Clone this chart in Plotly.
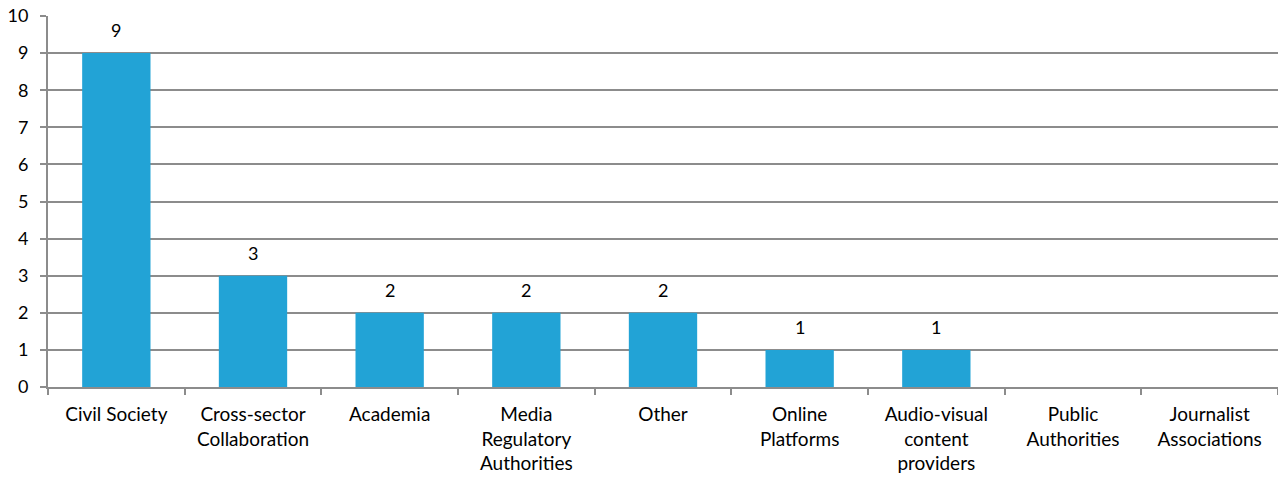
import plotly.graph_objects as go

categories = ["Civil Society", "Cross-sector<br>Collaboration", "Academia",
              "Media<br>Regulatory<br>Authorities", "Other", "Online<br>Platforms",
              "Audio-visual<br>content<br>providers", "Public<br>Authorities",
              "Journalist<br>Associations"]
values = [9, 3, 2, 2, 2, 1, 1, 0, 0]
y_ticks = list(range(0, 11))

FONT = "Lato, Open Sans, sans-serif"
GRID = "#8c8c8c"

fig = go.Figure(go.Bar(
    x=categories, y=values, marker=dict(color="#22a3d6", line=dict(width=0)),
    hoverinfo="skip",
))

for c, v in zip(categories, values):
    if v > 0:
        fig.add_annotation(x=c, y=v, text=str(v), showarrow=False,
                           yanchor="bottom", yshift=10,
                           font=dict(family=FONT, size=18, color="#000"))

fig.update_layout(
    width=1278, height=477,
    margin=dict(l=48, r=0, t=16, b=90),
    plot_bgcolor="white", paper_bgcolor="white",
    bargap=0.5, showlegend=False,
    font=dict(family=FONT, size=18, color="#000"),
)
fig.update_xaxes(
    type="category", tickson="boundaries", ticks="outside", ticklen=6,
    tickcolor=GRID, tickwidth=2, showline=True, linecolor=GRID, linewidth=2,
    showgrid=False, tickfont=dict(family=FONT, size=19, color="#000"),
    automargin=False, ticklabelstandoff=9,
)
fig.update_yaxes(
    range=[0, 10], tickvals=y_ticks, ticks="outside", ticklen=6,
    tickcolor=GRID, tickwidth=2, showline=True, linecolor=GRID, linewidth=2,
    showgrid=True, gridcolor=GRID, gridwidth=2, zeroline=False,
    tickfont=dict(family=FONT, size=18, color="#000"),
    automargin=False, ticklabelstandoff=8,
)

fig.write_html("out.html", config={"displayModeBar": False},
               post_script="document.body.style.margin='0';")
